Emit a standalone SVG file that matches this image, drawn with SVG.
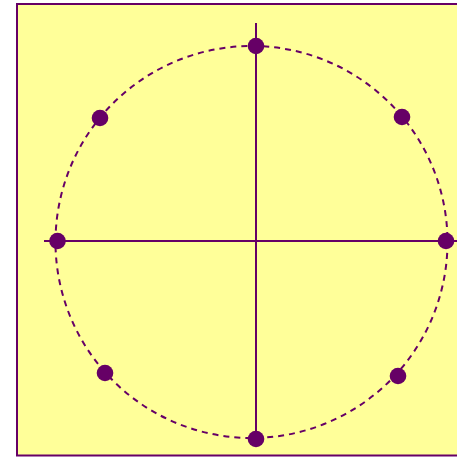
<svg xmlns="http://www.w3.org/2000/svg" width="457" height="457" viewBox="0 0 457 457">
<style>
.ln{stroke:#660066;stroke-width:2;fill:none}
.dash{stroke:#660066;stroke-width:2;fill:none;stroke-dasharray:6 5}
.pt{fill:#660066}
</style>
<rect x="17" y="4" width="445" height="451.5" fill="#ffff99" stroke="#660066" stroke-width="2"/>
<g id="connectors">
<circle class="dash" cx="251.5" cy="242" r="196"/>
<line class="ln" x1="256" y1="23" x2="256" y2="447"/>
<line class="ln" x1="44" y1="241" x2="460" y2="241"/>
</g>
<g id="p-top"><circle class="pt" cx="256" cy="46" r="8.3"/></g>
<g id="p-topright"><circle class="pt" cx="402" cy="117" r="8.3"/></g>
<g id="p-right"><circle class="pt" cx="446" cy="241" r="8.3"/></g>
<g id="p-bottomright"><circle class="pt" cx="398" cy="376" r="8.3"/></g>
<g id="p-bottom"><circle class="pt" cx="256" cy="439" r="8.3"/></g>
<g id="p-bottomleft"><circle class="pt" cx="105" cy="373" r="8.3"/></g>
<g id="p-left"><circle class="pt" cx="57.5" cy="241" r="8.3"/></g>
<g id="p-topleft"><circle class="pt" cx="100" cy="118" r="8.3"/></g>
</svg>
